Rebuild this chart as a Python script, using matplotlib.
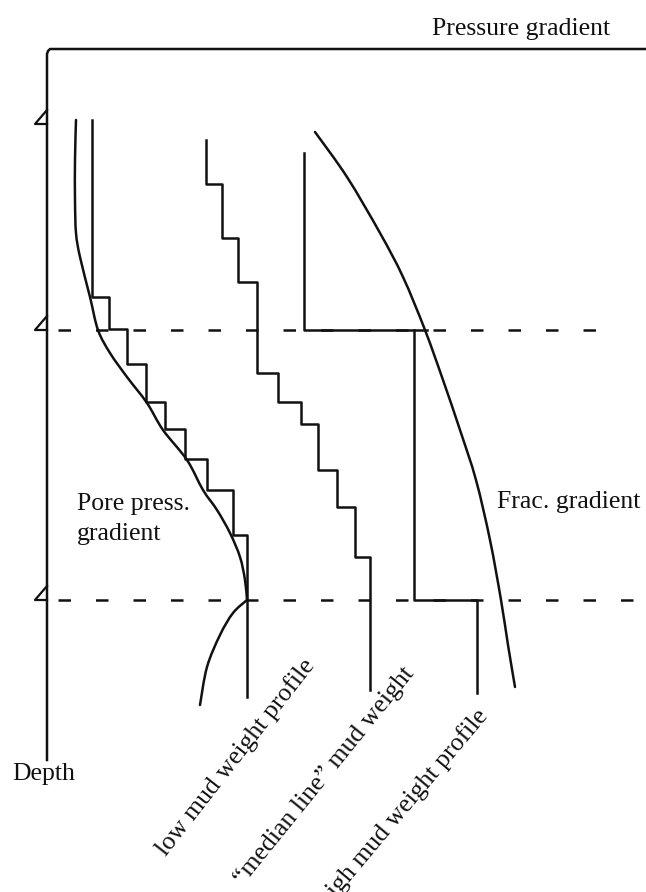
import matplotlib
matplotlib.use('Agg')
import matplotlib.pyplot as plt
from matplotlib.path import Path
from matplotlib.patches import PathPatch

plt.rcParams['font.family'] = ['Liberation Serif', 'DejaVu Serif']
plt.rcParams['lines.scale_dashes'] = False

# values (x = pressure gradient, y = depth, picture units)
casing_depths = [124, 330, 600]

# pore pressure gradient, upper part down to the deepest shoe, then the part below it
pore_x = [76, 75, 75, 76, 80, 90, 98, 110, 127, 147, 163, 187, 203, 217, 230, 240, 245, 247]
pore_y = [120, 160, 200, 233, 257, 297, 330, 353, 377, 403, 430, 460, 490, 510, 533, 557, 580, 600]
pore_low_x = [247, 233, 220, 207, 200]
pore_low_y = [600, 613, 635, 667, 705]

frac_x = [315, 347, 380, 403, 425, 443, 460, 476, 490, 501, 508, 515]
frac_y = [132, 177, 233, 277, 330, 380, 430, 480, 540, 600, 645, 687]

low_x = [92, 109, 127, 146, 165, 185, 207, 233, 247]
low_y = [120, 297, 329, 364, 402, 429, 459, 490, 535, 697]

med_x = [206, 222, 238, 257, 278, 301, 318, 337, 355, 370]
med_y = [140, 184, 238, 282, 373, 402, 424, 470, 507, 557, 690]

high_x = [304, 414, 477]
high_y = [153, 330, 600, 693]


def staircase(xs, ys):
    px, py = [], []
    for i in range(len(xs)):
        px += [xs[i], xs[i]]
        py += [ys[i], ys[i + 1]]
    return px, py


def smooth_path(xs, ys):
    # bezier through the read points (catmull-rom control points)
    pts = list(zip(xs, ys))
    n = len(pts)
    verts = [pts[0]]
    codes = [Path.MOVETO]
    for i in range(n - 1):
        p0 = pts[max(i - 1, 0)]
        p1 = pts[i]
        p2 = pts[i + 1]
        p3 = pts[min(i + 2, n - 1)]
        c1 = (p1[0] + (p2[0] - p0[0]) / 6, p1[1] + (p2[1] - p0[1]) / 6)
        c2 = (p2[0] - (p3[0] - p1[0]) / 6, p2[1] - (p3[1] - p1[1]) / 6)
        verts += [c1, c2, p2]
        codes += [Path.CURVE4] * 3
    return Path(verts, codes)


fig = plt.figure(figsize=(6.46, 8.92), dpi=100)
ax = fig.add_axes([0, 0, 1, 1])
ax.set_xlim(0, 646)
ax.set_ylim(892, 0)
ax.axis('off')

lw = 1.8
k = '#111111'

# frame: depth axis and pressure gradient axis
ax.plot([47, 47, 48, 50, 646], [760, 54, 51, 49, 49], color=k, lw=lw, solid_joinstyle='round')

# casing shoe marks and dashed depth lines
for d in casing_depths:
    ax.plot([47, 35, 47], [d - 14, d, d], color=k, lw=1.6)
ax.plot([58, 612], [casing_depths[1]] * 2, color=k, lw=lw, dashes=(9, 18))
ax.plot([58, 636], [casing_depths[2]] * 2, color=k, lw=lw, dashes=(9, 18))

# pore pressure and fracture gradients
for xs, ys in [(pore_x, pore_y), (pore_low_x, pore_low_y), (frac_x, frac_y)]:
    ax.add_patch(PathPatch(smooth_path(xs, ys), fill=False, edgecolor=k, lw=lw,
                           capstyle='round'))

# mud weight profiles
sx, sy = staircase(low_x, low_y)
ax.plot(sx, sy, color=k, lw=lw)
sx, sy = staircase(med_x, med_y)
ax.plot(sx, sy, color=k, lw=lw)
ax.plot([high_x[0], high_x[0], 427], [high_y[0], high_y[1], high_y[1]], color=k, lw=lw)
ax.plot([high_x[1], high_x[1], high_x[2], high_x[2]],
        [high_y[1], high_y[2], high_y[2], high_y[3]], color=k, lw=lw)

fs = 18.5
ax.text(432, 35, 'Pressure gradient', fontsize=fs, ha='left', va='baseline', color=k)
ax.text(77, 510, 'Pore press.', fontsize=fs, ha='left', va='baseline', color=k)
ax.text(77, 540, 'gradient', fontsize=fs, ha='left', va='baseline', color=k)
ax.text(497, 508, 'Frac. gradient', fontsize=fs, ha='left', va='baseline', color=k)
ax.text(12, 780, 'Depth', fontsize=fs, ha='left', va='baseline', color=k)

ax.text(236, 757, 'low mud weight profile', fontsize=fs, rotation=52,
        rotation_mode='anchor', ha='center', va='center', color=k)
ax.text(324, 776, '\u201cmedian line\u201d mud weight', fontsize=fs, rotation=51,
        rotation_mode='anchor', ha='center', va='center', color=k)
ax.text(404, 808, 'high mud weight profile', fontsize=fs, rotation=50,
        rotation_mode='anchor', ha='center', va='center', color=k)

fig.savefig('out.png', dpi=100)
